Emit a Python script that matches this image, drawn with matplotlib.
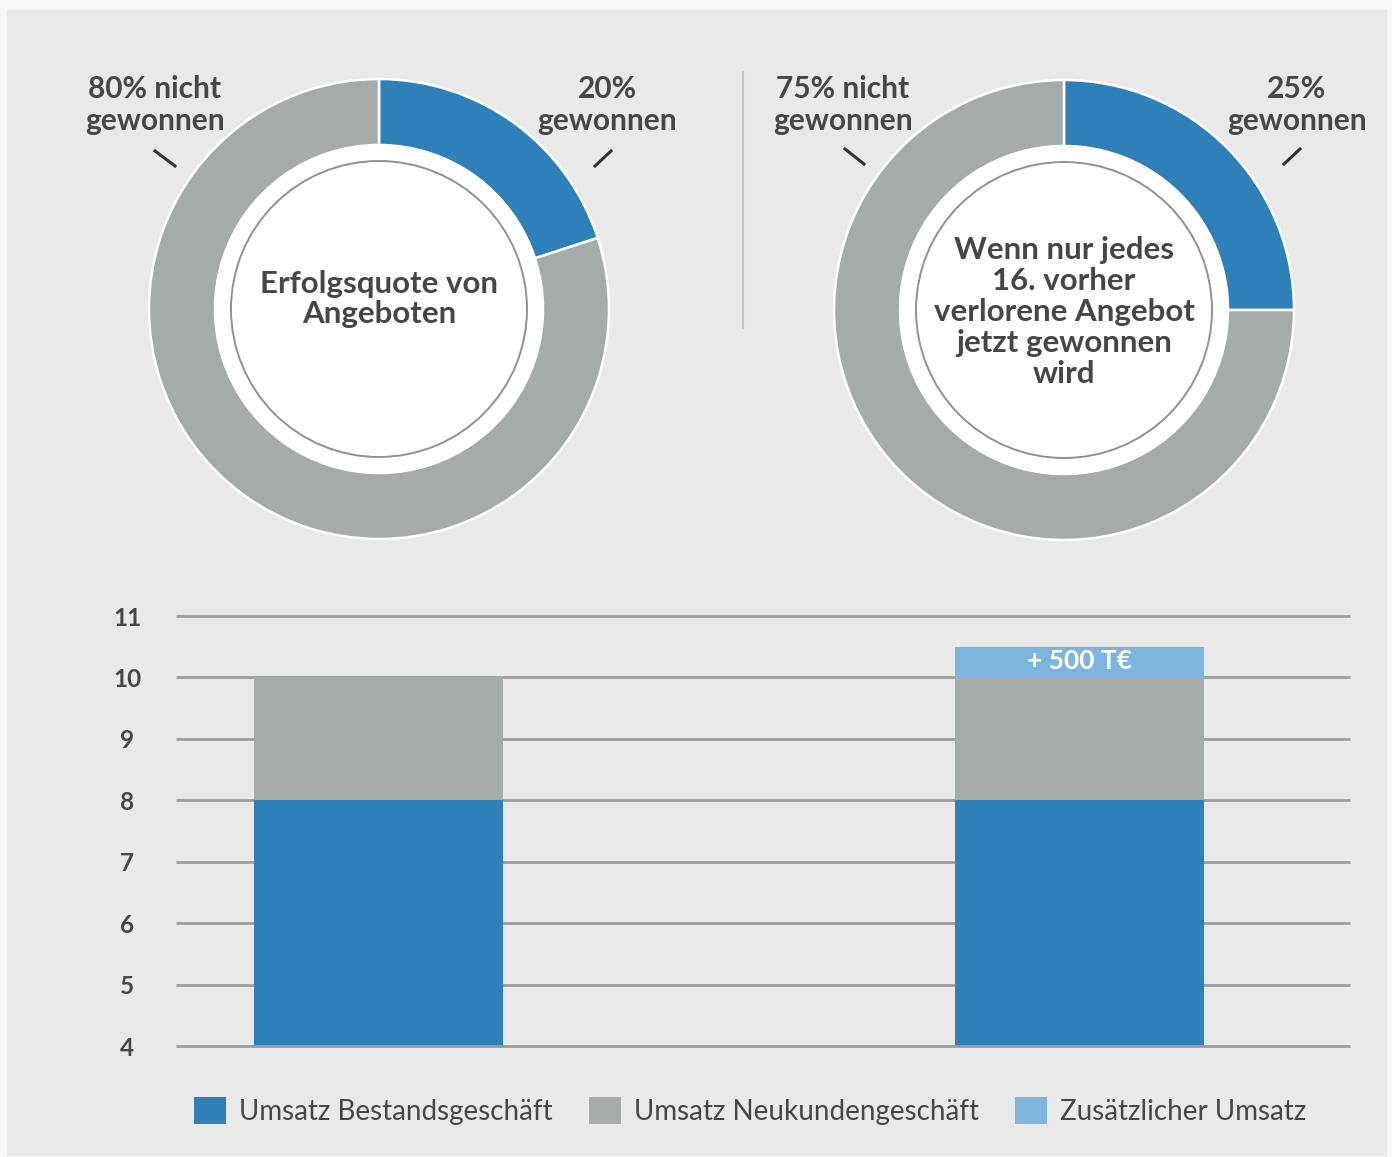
import matplotlib
matplotlib.use("Agg")
import matplotlib.pyplot as plt
from matplotlib.patches import Circle, Rectangle
from matplotlib.lines import Line2D

plt.rcParams['font.family'] = ['Lato', 'DejaVu Sans']

# ---------------- data ----------------
donut1_values = [20, 80]
donut1_labels = ["20%\ngewonnen", "80% nicht\ngewonnen"]
donut1_title = "Erfolgsquote von\nAngeboten"

donut2_values = [25, 75]
donut2_labels = ["25%\ngewonnen", "75% nicht\ngewonnen"]
donut2_title = "Wenn nur jedes\n16. vorher\nverlorene Angebot\njetzt gewonnen\nwird"

bar_categories = ["Ist", "Mit zusätzlichem Umsatz"]
umsatz_bestand = [8, 8]
umsatz_neukunden = [2, 2]
umsatz_zusatz = [0, 0.5]
zusatz_label = "+ 500 T€"
y_ticks = [4, 5, 6, 7, 8, 9, 10, 11]
legend_labels = ["Umsatz Bestandsgeschäft", "Umsatz Neukundengeschäft", "Zusätzlicher Umsatz"]

# ---------------- style ----------------
BLUE = "#2f80b9"
GRAY = "#a4abaa"
LIGHT = "#7eb5de"
TEXT = "#464646"
GRID = "#9c9c9c"
PANEL = "#e9e9e9"

W, H = 1392, 1157
fig = plt.figure(figsize=(W / 100, H / 100), dpi=100, facecolor="#f7f7f7")

def fx(x):
    return x / W

def fy(y):
    return 1 - y / H

fig.patches.append(Rectangle((fx(7), fy(1155)), (1386 - 7) / W, (1155 - 10) / H,
                             transform=fig.transFigure, color=PANEL, zorder=-5))

# ---------------- donuts ----------------
R = 230.0
def donut(cx, cy, values, title, title_dy):
    ax = fig.add_axes([fx(cx - R), fy(cy + R), 2 * R / W, 2 * R / H])
    ax.set_facecolor("none")
    ax.pie(values, startangle=90, counterclock=False, colors=[BLUE, GRAY], radius=1,
           wedgeprops=dict(width=(R - 164) / R, edgecolor="white", linewidth=1.8))
    ax.add_patch(Circle((0, 0), 164 / R, color="white", zorder=3))
    ax.add_patch(Circle((0, 0), 148 / R, fill=False, ec="#8d9292", lw=1.4, zorder=4))
    ax.text(0, title_dy / R, title, ha="center", va="center", fontsize=22.5,
            fontweight="bold", color=TEXT, linespacing=1.12, zorder=5)
    ax.set_xlim(-1, 1)
    ax.set_ylim(-1, 1)
    ax.axis("off")
    return ax

donut(379, 309, donut1_values, donut1_title, 309 - 299)
donut(1064, 310, donut2_values, donut2_title, 310 - 312)

label_style = dict(ha="center", va="center", fontsize=21.5, fontweight="bold",
                   color=TEXT, linespacing=1.17)
fig.text(fx(155), fy(105), donut1_labels[1], **label_style)
fig.text(fx(607), fy(105), donut1_labels[0], **label_style)
fig.text(fx(843), fy(105), donut2_labels[1], **label_style)
fig.text(fx(1297), fy(105), donut2_labels[0], **label_style)

for (x1, y1, x2, y2) in [(155, 151, 175, 166), (595, 166, 611, 151),
                         (845, 149, 864, 164), (1284, 164, 1300, 149)]:
    fig.add_artist(Line2D([fx(x1), fx(x2)], [fy(y1), fy(y2)], color="#333333",
                          lw=2.2, transform=fig.transFigure))

fig.add_artist(Line2D([fx(743), fx(743)], [fy(72), fy(328)], color="#c6c6c6",
                      lw=1.5, transform=fig.transFigure))

# ---------------- bar chart ----------------
ax = fig.add_axes([fx(176), fy(1046), (1350 - 176) / W, (1046 - 616) / H])
ax.set_facecolor("none")
x = [0, 1]
bw = 0.355
ax.bar(x, umsatz_bestand, width=bw, color=BLUE, zorder=2, label=legend_labels[0])
ax.bar(x, umsatz_neukunden, bottom=umsatz_bestand, width=bw, color=GRAY, zorder=2,
       label=legend_labels[1])
bottom2 = [a + b for a, b in zip(umsatz_bestand, umsatz_neukunden)]
ax.bar(x, umsatz_zusatz, bottom=bottom2, width=bw, color=LIGHT, zorder=2,
       label=legend_labels[2])
for xi, b, z in zip(x, bottom2, umsatz_zusatz):
    if z > 0:
        ax.text(xi, b + z / 2 + 0.02, zusatz_label, ha="center", va="center", color="white",
                fontsize=19, fontweight="bold", zorder=3)

ax.set_xlim(-0.289, 1.386)
ax.set_ylim(y_ticks[0], y_ticks[-1])
ax.hlines(y_ticks[1:], -0.289, 1.386, color=GRID, lw=2, zorder=1, clip_on=False)
ax.hlines([y_ticks[0]], -0.289, 1.386, color=GRID, lw=2, zorder=4, clip_on=False)
for s in ax.spines.values():
    s.set_visible(False)
ax.set_xticks([])
ax.set_yticks(y_ticks)
ax.set_yticklabels([str(t) for t in y_ticks])
ax.tick_params(axis="y", length=0, pad=35, labelsize=17.5, labelcolor=TEXT)
for lab in ax.get_yticklabels():
    lab.set_ha("center")
    lab.set_fontweight("bold")

handles, labels = ax.get_legend_handles_labels()
fig.legend(handles, labels, loc="center", bbox_to_anchor=(fx(750), fy(1111)), ncol=3,
           frameon=False, prop={"family": ["Lato", "DejaVu Sans"], "size": 20},
           labelcolor=TEXT, handlelength=1.15, handleheight=1.15, handletextpad=0.47,
           columnspacing=1.3, borderpad=0)

fig.savefig("out.png", dpi=100, facecolor=fig.get_facecolor())
